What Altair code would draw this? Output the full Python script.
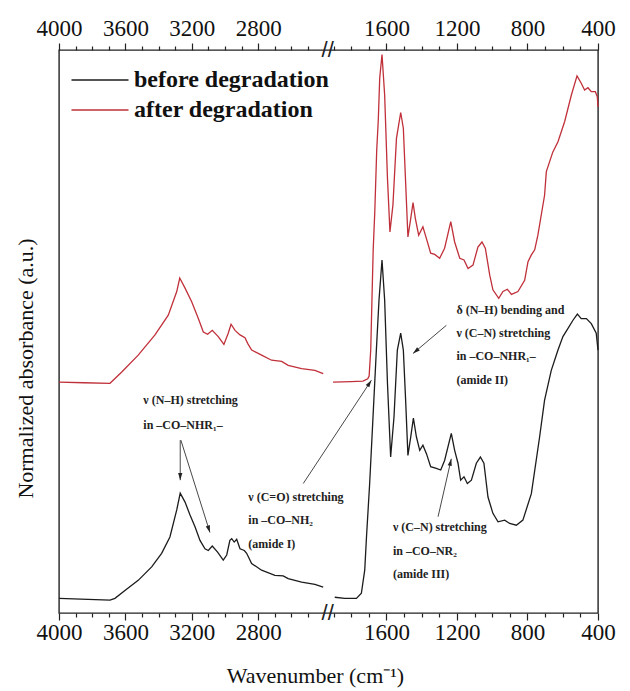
import altair as alt
import pandas as pd

# ---------------- data (wavenumber cm-1, normalized absorbance a.u.) ----------------
black_left_wn = [4000, 3693, 3663, 3603, 3523, 3442, 3382, 3332, 3291, 3270, 3241, 3211, 3181, 3151,
                 3121, 3101, 3077, 3045, 3011, 2990, 2971, 2960, 2945, 2930, 2910, 2884, 2870, 2840,
                 2780, 2700, 2650, 2620, 2539, 2459, 2409]
black_left_a = [0.026, 0.023, 0.026, 0.040, 0.058, 0.082, 0.106, 0.135, 0.183, 0.213, 0.197, 0.174, 0.153, 0.129,
                0.114, 0.111, 0.119, 0.108, 0.094, 0.103, 0.129, 0.132, 0.126, 0.131, 0.114, 0.111, 0.106, 0.088,
                0.076, 0.067, 0.066, 0.061, 0.055, 0.051, 0.046]

black_right_wn = [1893, 1836, 1770, 1742, 1723, 1713, 1695, 1676, 1657, 1642, 1625, 1610, 1594, 1576,
                  1557, 1538, 1519, 1504, 1491, 1478, 1462, 1447, 1430, 1411, 1393, 1373, 1349, 1317,
                  1292, 1270, 1232, 1213, 1194, 1179, 1160, 1141, 1118, 1090, 1067, 1047, 1024, 996,
                  967, 929, 901, 863, 826, 778, 731, 703, 665, 627, 599, 571, 542, 517, 495, 466,
                  438, 410, 400]
black_right_a = [0.028, 0.026, 0.026, 0.035, 0.076, 0.135, 0.230, 0.348, 0.467, 0.556, 0.627, 0.556, 0.408, 0.277,
                 0.348, 0.467, 0.497, 0.467, 0.378, 0.280, 0.313, 0.346, 0.313, 0.289, 0.298, 0.283, 0.260, 0.257,
                 0.254, 0.271, 0.319, 0.289, 0.266, 0.236, 0.242, 0.230, 0.236, 0.266, 0.277, 0.266, 0.206, 0.177,
                 0.162, 0.165, 0.159, 0.156, 0.165, 0.212, 0.313, 0.378, 0.431, 0.467, 0.491, 0.505, 0.520, 0.531,
                 0.523, 0.523, 0.514, 0.497, 0.467]

red_left_wn = [4000, 3850, 3693, 3622, 3523, 3422, 3342, 3291, 3273, 3241, 3201, 3161, 3131, 3105, 3077,
               3041, 3007, 2981, 2964, 2940, 2910, 2880, 2864, 2840, 2780, 2720, 2659, 2620, 2539, 2459, 2409]
red_left_a = [0.410, 0.409, 0.408, 0.428, 0.458, 0.494, 0.529, 0.571, 0.595, 0.577, 0.553, 0.523, 0.499, 0.495, 0.502,
              0.491, 0.477, 0.497, 0.513, 0.502, 0.494, 0.489, 0.479, 0.467, 0.458, 0.449, 0.447, 0.440, 0.434, 0.431, 0.425]

red_right_wn = [1903, 1800, 1733, 1706, 1698, 1689, 1682, 1675, 1666, 1655, 1646, 1638, 1625, 1610, 1594,
                1580, 1563, 1543, 1519, 1504, 1492, 1478, 1462, 1449, 1436, 1417, 1393, 1373, 1349, 1326,
                1298, 1270, 1235, 1213, 1184, 1160, 1137, 1109, 1081, 1058, 1039, 1014, 996, 963, 939,
                914, 891, 854, 816, 797, 778, 759, 741, 703, 693, 656, 627, 589, 551, 519, 495, 476,
                457, 438, 415, 404, 400]
red_right_a = [0.410, 0.411, 0.412, 0.416, 0.421, 0.467, 0.556, 0.645, 0.712, 0.822, 0.876, 0.950, 0.992, 0.920, 0.772,
               0.677, 0.725, 0.843, 0.889, 0.861, 0.772, 0.668, 0.701, 0.729, 0.701, 0.671, 0.686, 0.665, 0.639, 0.637,
               0.630, 0.648, 0.695, 0.659, 0.630, 0.627, 0.612, 0.618, 0.650, 0.659, 0.648, 0.600, 0.574, 0.559, 0.571,
               0.575, 0.566, 0.571, 0.591, 0.624, 0.636, 0.645, 0.671, 0.742, 0.784, 0.819, 0.837, 0.873, 0.920, 0.954,
               0.941, 0.929, 0.933, 0.926, 0.926, 0.917, 0.899]

series_names = ["before degradation", "after degradation"]
series_colors = ["#1c1c1c", "#c0303a"]

tick_values = [4000, 3900, 3800, 3700, 3600, 3500, 3400, 3300, 3200, 3100, 3000, 2900, 2800, 2700, 2600, 2500,
               1900, 1800, 1700, 1600, 1500, 1400, 1300, 1200, 1100, 1000, 900, 800, 700, 600, 500, 400]
label_values = [4000, 3600, 3200, 2800, 1600, 1200, 800, 400]

# annotations: one row per text line
ann_wn = [3492, 3492, 2860, 2860, 2860, 1203, 1203, 1203, 1203, 1563, 1563, 1563]
ann_a = [0.379, 0.334, 0.206, 0.166, 0.123, 0.539, 0.498, 0.456, 0.414, 0.153, 0.111, 0.070]
ann_text = ["ν (N–H) stretching", "in –CO–NHR₁–",
            "ν (C=O) stretching", "in –CO–NH₂", "(amide I)",
            "δ (N–H) bending and", "ν (C–N) stretching", "in –CO–NHR₁–", "(amide II)",
            "ν (C–N) stretching", "in –CO–NR₂", "(amide III)"]

# arrows: start -> tip
arr_wn = [3270, 3266, 2529, 1260, 1307]
arr_a = [0.307, 0.307, 0.230, 0.511, 0.171]
arr_wn2 = [3270, 3091, 1685, 1449, 1232]
arr_a2 = [0.236, 0.143, 0.4135, 0.461, 0.274]
arr_angle = [180, 162.5, 33.5, 229.7, 12.9]

break_wn = [2175, 2175]
break_a = [0.0, 1.0]

# ---------------- build tables ----------------
parts = [
    (black_left_wn, black_left_a, series_names[0], "b1"),
    (black_right_wn, black_right_a, series_names[0], "b2"),
    (red_left_wn, red_left_a, series_names[1], "r1"),
    (red_right_wn, red_right_a, series_names[1], "r2"),
]
frames = [pd.DataFrame({"wn": w, "a": a, "series": s, "seg": g}) for w, a, s, g in parts]
df = pd.concat(frames, ignore_index=True)

ann_df = pd.DataFrame({"wn": ann_wn, "a": ann_a, "text": ann_text})
arr_df = pd.DataFrame({"wn": arr_wn, "a": arr_a, "wn2": arr_wn2, "a2": arr_a2, "ang": arr_angle})
brk_df = pd.DataFrame({"wn": break_wn, "a": break_a})

W, H = 539, 563
SERIF = "Liberation Serif"

xscale = alt.Scale(domain=[4000, 2400, 1950, 400], range=[0, 265.7, 265.7, W], nice=False, zero=False)
yscale = alt.Scale(domain=[0, 1], nice=False, zero=False)

lab_list = "[" + ",".join(str(v) for v in label_values) + "]"
is_major = f"indexof({lab_list}, datum.value) >= 0"


def x_axis(orient, title=None, **kw):
    return alt.Axis(
        orient=orient, values=tick_values, format="d",
        labelExpr=f"{is_major} ? datum.label : ''",
        tickSize={"condition": {"test": is_major, "value": 7}, "value": 4},
        tickColor="#222", tickWidth=1.2, domain=False, grid=False,
        labelFont=SERIF, labelFontSize=23, labelColor="#111",
        labelFlush=False, labelOverlap=False, title=title, **kw)


bottom_axis = x_axis("bottom", title="Wavenumber (cm⁻¹)", labelPadding=1,
                     titleFont=SERIF, titleFontSize=22, titleFontWeight="normal", titleColor="#111",
                     titleX=256, titleY=69, titleAlign="center", titleBaseline="alphabetic")
top_axis = x_axis("top", labelPadding=3)

y_axis = alt.Axis(orient="left", domain=False, ticks=False, labels=False, grid=False,
                  title="Normalized absorbance (a.u.)", titleFont=SERIF, titleFontSize=22,
                  titleFontWeight="normal", titleColor="#111", titleX=-34, titleY=318,
                  titleAngle=270, titleAlign="center", titleBaseline="middle")

legend = alt.Legend(orient="none", legendX=29, legendY=18, title=None,
                    symbolType="M-3,0H3", symbolSize=361, symbolStrokeWidth=1.3,
                    labelFont=SERIF, labelFontSize=24, labelFontWeight="bold", labelColor="#111",
                    labelOffset=22, labelLimit=0, rowPadding=6, padding=0)

lines = alt.Chart(df).mark_line(strokeWidth=1.3).encode(
    x=alt.X("wn:Q", scale=xscale, axis=bottom_axis),
    y=alt.Y("a:Q", scale=yscale, axis=y_axis),
    color=alt.Color("series:N", scale=alt.Scale(domain=series_names, range=series_colors),
                    legend=legend, sort=series_names),
    detail="seg:N",
)

top = alt.Chart(df).mark_line(opacity=0).encode(
    x=alt.X("wn:Q", scale=xscale, axis=top_axis),
    y=alt.Y("a:Q", scale=yscale, axis=None),
    detail="seg:N",
)

texts = alt.Chart(ann_df).mark_text(align="left", baseline="middle", font=SERIF, fontWeight="bold",
                                    fontSize=12, color="#222").encode(
    x=alt.X("wn:Q", scale=xscale, axis=None),
    y=alt.Y("a:Q", scale=yscale, axis=None),
    text="text:N",
)

arrows = alt.Chart(arr_df).mark_rule(strokeWidth=0.9, color="#333").encode(
    x=alt.X("wn:Q", scale=xscale, axis=None),
    y=alt.Y("a:Q", scale=yscale, axis=None),
    x2="wn2:Q", y2="a2:Q",
)

heads = alt.Chart(arr_df).mark_point(shape="M0,0L-0.3,1L0.3,1Z", filled=True, size=200,
                                     color="#222", opacity=1, strokeWidth=0).encode(
    x=alt.X("wn2:Q", scale=xscale, axis=None),
    y=alt.Y("a2:Q", scale=yscale, axis=None),
    angle=alt.Angle("ang:Q", scale=None),
)

breaks = alt.Chart(brk_df).mark_text(text="//", font="Liberation Sans", fontSize=22, color="#222",
                                     dx=3).encode(
    x=alt.X("wn:Q", scale=xscale, axis=None),
    y=alt.Y("a:Q", scale=yscale, axis=None),
)

chart = alt.layer(lines, top, texts, arrows, heads, breaks).resolve_axis(
    x="independent", y="independent"
).properties(
    width=W, height=H,
    autosize=alt.AutoSizeParams(type="none"),
    padding={"left": 51, "top": 42, "right": 20, "bottom": 78},
).configure_view(stroke="#222", strokeWidth=1.4)

chart.save("out.html", embed_options={"renderer": "svg", "actions": False})
